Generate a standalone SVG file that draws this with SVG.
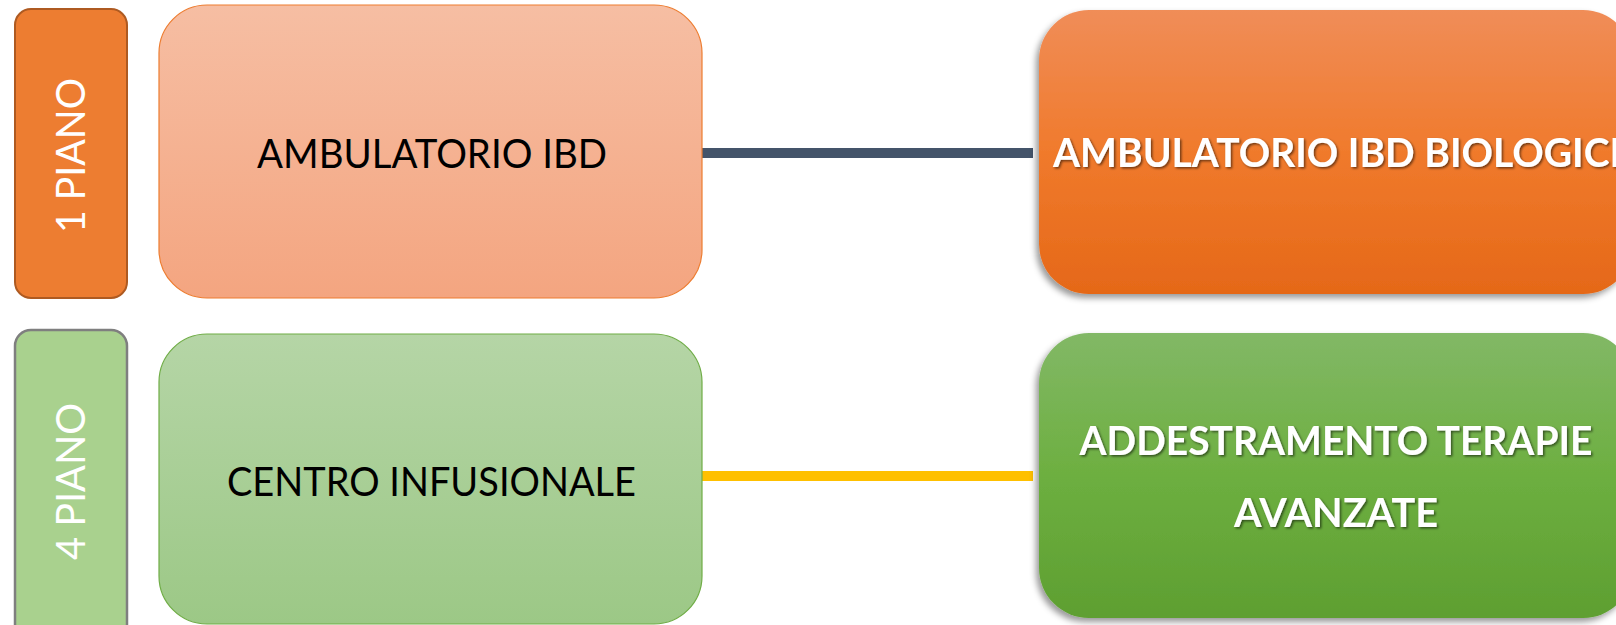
<svg xmlns="http://www.w3.org/2000/svg" width="1616" height="625" viewBox="0 0 1616 625">
  <defs>
    <linearGradient id="gMid1" x1="0" y1="0" x2="0" y2="1">
      <stop offset="0" stop-color="#F6BEA3"/>
      <stop offset="1" stop-color="#F4A580"/>
    </linearGradient>
    <linearGradient id="gMid2" x1="0" y1="0" x2="0" y2="1">
      <stop offset="0" stop-color="#B5D5A6"/>
      <stop offset="1" stop-color="#9CC886"/>
    </linearGradient>
    <linearGradient id="gRight1" x1="0" y1="0" x2="0" y2="1">
      <stop offset="0" stop-color="#F08D58"/>
      <stop offset="0.5" stop-color="#F07A2C"/>
      <stop offset="1" stop-color="#E56818"/>
    </linearGradient>
    <linearGradient id="gRight2" x1="0" y1="0" x2="0" y2="1">
      <stop offset="0" stop-color="#82B866"/>
      <stop offset="0.5" stop-color="#6DAF40"/>
      <stop offset="1" stop-color="#5E9F31"/>
    </linearGradient>
    <filter id="boxShadow" x="-10%" y="-10%" width="120%" height="125%">
      <feDropShadow dx="-3" dy="4" stdDeviation="3" flood-color="#000" flood-opacity="0.4"/>
    </filter>
    <filter id="textShadow" x="-5%" y="-20%" width="110%" height="150%">
      <feDropShadow dx="1.5" dy="1.5" stdDeviation="1" flood-color="#000" flood-opacity="0.55"/>
    </filter>
  </defs>
  <style>
    .label { font-family: Lato, "Open Sans", "Liberation Sans", sans-serif; font-size: 41px; }
    .dark { fill: #000000; }
    .white { fill: #FFFFFF; }
    .bold { font-weight: bold; }
    .conn { stroke-width: 10; fill: none; }
  </style>
  <rect width="1616" height="625" fill="#FFFFFF"/>

  <g id="connectors">
    <line class="conn" x1="702" y1="153" x2="1033" y2="153" stroke="#44546A"/>
    <line class="conn" x1="702" y1="476" x2="1033" y2="476" stroke="#FFC000"/>
  </g>

  <g id="floor1">
    <rect x="15" y="9" width="112" height="289" rx="16" ry="16" fill="#ED7D31" stroke="#AE5A21" stroke-width="2"/>
    <text class="label white" transform="translate(85,155.5) rotate(-90)" text-anchor="middle" textLength="155" lengthAdjust="spacingAndGlyphs">1 PIANO</text>
  </g>

  <g id="floor4">
    <rect x="15" y="330" width="112" height="310" rx="16" ry="16" fill="#A9D18E" stroke="#7F7F7F" stroke-width="2.5"/>
    <text class="label white" transform="translate(85,481.5) rotate(-90)" text-anchor="middle" textLength="157" lengthAdjust="spacingAndGlyphs">4 PIANO</text>
  </g>

  <g id="ambulatorio-ibd">
    <rect x="159" y="5" width="543" height="293" rx="48" ry="48" fill="url(#gMid1)" stroke="#ED7D31" stroke-width="1.2"/>
    <text class="label dark" x="432" y="168" text-anchor="middle" textLength="350" lengthAdjust="spacingAndGlyphs">AMBULATORIO IBD</text>
  </g>

  <g id="centro-infusionale">
    <rect x="159" y="334" width="543" height="290" rx="48" ry="48" fill="url(#gMid2)" stroke="#70AD47" stroke-width="1.2"/>
    <text class="label dark" x="431.5" y="496" text-anchor="middle" textLength="409" lengthAdjust="spacingAndGlyphs">CENTRO INFUSIONALE</text>
  </g>

  <g id="ambulatorio-ibd-biologici">
    <rect x="1039" y="10" width="594" height="284" rx="50" ry="50" fill="url(#gRight1)" filter="url(#boxShadow)"/>
    <text class="label white bold" x="1337" y="167" text-anchor="middle" textLength="568" lengthAdjust="spacingAndGlyphs" filter="url(#textShadow)">AMBULATORIO IBD BIOLOGICI</text>
  </g>

  <g id="addestramento-terapie-avanzate">
    <rect x="1039" y="333" width="594" height="285" rx="50" ry="50" fill="url(#gRight2)" filter="url(#boxShadow)"/>
    <text class="label white bold" x="1336" y="455" text-anchor="middle" textLength="513" lengthAdjust="spacingAndGlyphs" filter="url(#textShadow)">ADDESTRAMENTO TERAPIE</text>
    <text class="label white bold" x="1336" y="527" text-anchor="middle" textLength="204" lengthAdjust="spacingAndGlyphs" filter="url(#textShadow)">AVANZATE</text>
  </g>
</svg>
